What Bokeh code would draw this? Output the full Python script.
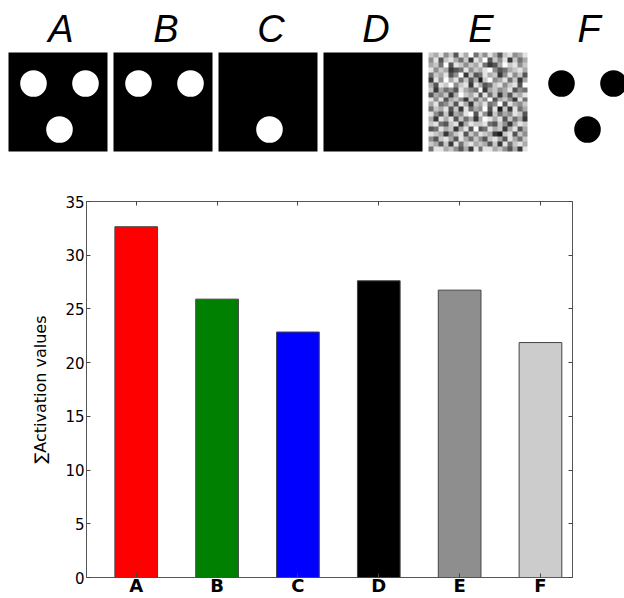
import numpy as np
from bokeh.plotting import figure
from bokeh.layouts import column
from bokeh.models import Range1d, LinearAxis, FixedTicker, LinearColorMapper
from bokeh.core.properties import value
from bokeh.palettes import Greys256
from bokeh.embed import file_html
from bokeh.resources import INLINE

# ---- data ---------------------------------------------------------------
categories = ["A", "B", "C", "D", "E", "F"]
activation_sums = [32.65, 25.91, 22.85, 27.62, 26.75, 21.87]
bar_colors = ["#ff0000", "#008000", "#0000ff", "#000000", "#8e8e8e", "#cccccc"]
y_ticks = [0, 5, 10, 15, 20, 25, 30, 35]

# which of the three dots (upper-left, upper-right, bottom) each stimulus shows
dots_present = {
    "A": [1, 1, 1],
    "B": [1, 1, 0],
    "C": [0, 0, 1],
    "D": [0, 0, 0],
    "F": [1, 1, 1],
}

# stimulus E: 20x20 grey-level noise, 0 = black ... 9 = white (top row first)
noise_rows = [
    "76857386947586378568",
    "58378647286937582746",
    "67493875768423697857",
    "85762348576895346786",
    "47683592734867258573",
    "28596847361795684726",
    "63879578286347857839",
    "72645386549267568354",
    "36572697683847263768",
    "85836752747593675284",
    "68457386276845938657",
    "47683728465938172846",
    "85372658938527465873",
    "62868374626986837462",
    "78437826877843752687",
    "34867268393486726836",
    "87625783758762178375",
    "53786386475378638647",
    "76372847867637284786",
    "48867536284886753628",
]

# ---- stimulus strip -------------------------------------------------------
top = figure(width=624, height=160, x_range=Range1d(0, 624), y_range=Range1d(0, 160),
             output_backend="svg", toolbar_location=None,
             min_border_left=0, min_border_right=0,
             min_border_top=0, min_border_bottom=0)
top.frame_align = False
top.axis.visible = False
top.grid.visible = False
top.outline_line_color = None
top.background_fill_color = "white"

panel_left = [8, 113, 218, 323, 428, 536]
panel_size = 99
panel_top = 108          # data y of the panels' top edge
dot_dx = [25, 77, 51]
dot_dy = [31, 31, 77]
dot_r = 13.3

for name, left in zip(categories, panel_left):
    if name in ("A", "B", "C", "D"):
        top.quad(left=[left], right=[left + panel_size], bottom=[panel_top - panel_size],
                 top=[panel_top], fill_color="black", line_color=None)
    if name == "E":
        grid = np.array([[int(c) for c in row] for row in noise_rows], dtype=float)
        mapper = LinearColorMapper(palette=Greys256, low=0, high=9)
        top.image(image=[grid[::-1]], x=left, y=panel_top - panel_size,
                  dw=panel_size, dh=panel_size, color_mapper=mapper)
    if name in dots_present:
        colour = "black" if name == "F" else "white"
        xs = [left + dx for dx, on in zip(dot_dx, dots_present[name]) if on]
        ys = [panel_top - dy for dy, on in zip(dot_dy, dots_present[name]) if on]
        if xs:
            top.circle(x=xs, y=ys, radius=dot_r, fill_color=colour, line_color=None)

# stimulus titles above the panels
title_x = [left + panel_size / 2 + 3 for left in panel_left]
top.text(x=title_x, y=[132] * len(categories), text=categories, text_align="center",
         text_baseline="middle", text_font=value("Liberation Sans"),
         text_font_style="italic", text_font_size="38px", text_color="black")

# ---- bar chart ------------------------------------------------------------
positions = list(range(len(categories)))
p = figure(width=624, height=438, x_range=Range1d(-0.615, 5.396), y_range=Range1d(0, 35),
           output_backend="svg", toolbar_location=None,
           min_border_left=86, min_border_right=52, min_border_top=41, min_border_bottom=20)
p.frame_align = False
p.grid.visible = False
p.outline_line_color = "#555555"
p.outline_line_width = 1
p.background_fill_color = "white"

p.vbar(x=positions, top=activation_sums, width=0.528, bottom=0,
       fill_color=bar_colors, line_color="#444444", line_width=1)

tick_color = "#444444"
p.xaxis.ticker = FixedTicker(ticks=positions)
p.xaxis.major_label_overrides = {i: c for i, c in enumerate(categories)}
p.xaxis.major_label_text_font = "DejaVu Sans"
p.xaxis.major_label_text_font_style = "bold"
p.xaxis.major_label_text_font_size = "18px"
p.xaxis.major_label_standoff = -3

p.yaxis.ticker = FixedTicker(ticks=y_ticks)
p.yaxis.major_label_text_font = "DejaVu Sans"
p.yaxis.major_label_text_font_size = "15px"
p.yaxis.major_label_standoff = 2
p.yaxis.axis_label = "∑Activation values"
p.yaxis.axis_label_text_font = "DejaVu Sans"
p.yaxis.axis_label_text_font_style = "normal"
p.yaxis.axis_label_text_font_size = "16px"
p.yaxis.axis_label_text_color = "black"
p.yaxis.axis_label_standoff = 12

for ax in (p.xaxis[0], p.yaxis[0]):
    ax.axis_line_color = None
    ax.major_tick_in = 4
    ax.major_tick_out = 0
    ax.minor_tick_line_color = None
    ax.major_tick_line_color = tick_color
    ax.major_label_text_color = "black"

# unlabelled tick marks on the right and top edges of the frame
right_axis = LinearAxis(ticker=FixedTicker(ticks=y_ticks),
                        major_label_overrides={t: "" for t in y_ticks},
                        major_tick_in=4, major_tick_out=0, axis_line_color=None,
                        minor_tick_line_color=None, major_tick_line_color=tick_color,
                        major_label_standoff=0)
p.add_layout(right_axis, "right")
top_axis = LinearAxis(ticker=FixedTicker(ticks=positions),
                      major_label_overrides={t: "" for t in positions},
                      major_tick_in=4, major_tick_out=0, axis_line_color=None,
                      minor_tick_line_color=None, major_tick_line_color=tick_color,
                      major_label_standoff=0)
p.add_layout(top_axis, "above")

layout = column(top, p, spacing=0)
open("out.html", "w").write(file_html(layout, INLINE))
